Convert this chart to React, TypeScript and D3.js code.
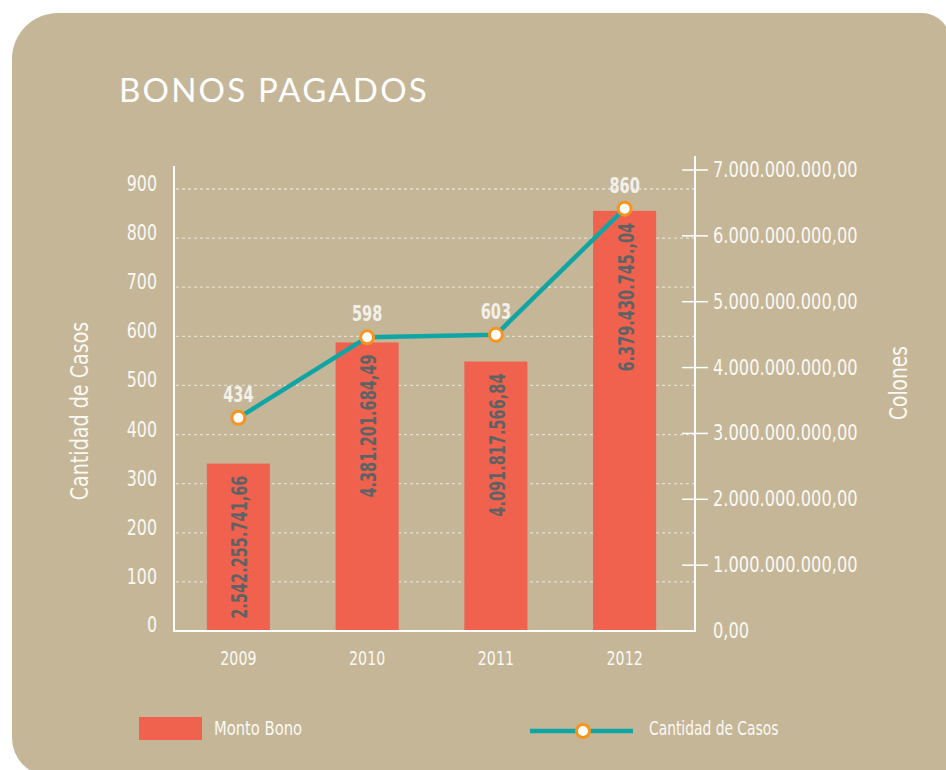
import React, { useEffect, useRef } from "react";
import * as d3 from "d3";

const years = ["2009", "2010", "2011", "2012"];
const montoBono = [2542255741.66, 4381201684.49, 4091817566.84, 6379430745.04];
const montoLabels = ["2.542.255.741,66", "4.381.201.684,49", "4.091.817.566,84", "6.379.430.745.,04"];
const casos = [434, 598, 603, 860];
const casosTicks = [0, 100, 200, 300, 400, 500, 600, 700, 800, 900];
const colonesTicks = [0, 1e9, 2e9, 3e9, 4e9, 5e9, 6e9, 7e9];

const W = 946, H = 770;
const BG = "#c5b698", BAR = "#f1624e", TEAL = "#10a5a5", ORANGE = "#f7941d";
const TXT = "#fbf9f4";
const NARROW = "'DejaVu Sans Condensed', 'DejaVu Sans', sans-serif";

const esLocale = d3.formatLocale({ decimal: ",", thousands: ".", grouping: [3], currency: ["", ""] });
const fmtColones = esLocale.format(",.2f");

// squeeze text horizontally, the original uses a condensed face
const sq = (x: number, y: number, s: number, rot = 0) =>
  `translate(${x},${y})` + (rot ? ` rotate(${rot})` : "") + ` scale(${s},1)`;

export default function App() {
  const ref = useRef<SVGSVGElement>(null);

  useEffect(() => {
    const svg = d3.select(ref.current);
    svg.selectAll("*").remove();

    // panel background with uneven rounded corners
    const x0 = 12, y0 = 13, x1 = 950, y1 = 776;
    const rtl = 46, rtr = 28, rbl = 38;
    const p = d3.path();
    p.moveTo(x0 + rtl, y0);
    p.lineTo(x1 - rtr, y0);
    p.arcTo(x1, y0, x1, y0 + rtr, rtr);
    p.lineTo(x1, y1);
    p.lineTo(x0 + rbl, y1);
    p.arcTo(x0, y1, x0, y1 - rbl, rbl);
    p.lineTo(x0, y0 + rtl);
    p.arcTo(x0, y0, x0 + rtl, y0, rtl);
    p.closePath();
    svg.append("path").attr("d", p.toString()).attr("fill", BG);

    svg.append("text").attr("x", 119).attr("y", 102)
      .attr("font-family", "Lato, 'Open Sans', sans-serif").attr("font-weight", 400)
      .attr("font-size", 33).attr("fill", "#ffffff").attr("letter-spacing", 2.2)
      .text("BONOS PAGADOS");

    const left = 174, right = 695, base = 631;
    const xScale = d3.scaleBand().domain(years).range([left, 689]).paddingInner(0.51).paddingOuter(0.255);
    const yCasos = d3.scaleLinear().domain([0, 900]).range([base, 189]);
    const yColones = d3.scaleLinear().domain([0, 7e9]).range([base, 170]);
    const cx = (d: string) => (xScale(d) as number) + xScale.bandwidth() / 2;

    // dashed grid
    svg.append("g").selectAll("line").data(casosTicks.filter(d => d > 0)).join("line")
      .attr("x1", left + 2).attr("x2", right).attr("y1", d => yCasos(d)).attr("y2", d => yCasos(d))
      .attr("stroke", "#e6dfd0").attr("stroke-width", 1.3).attr("stroke-dasharray", "3,3");

    // left axis labels
    svg.append("g").selectAll("text").data(casosTicks).join("text")
      .attr("transform", d => sq(157, yCasos(d) + (d === 0 ? 1 : 2), 0.8))
      .attr("text-anchor", "end")
      .attr("font-family", NARROW).attr("font-size", 22).attr("fill", TXT)
      .text(d => String(d));

    // right axis ticks and labels
    const rg = svg.append("g");
    rg.selectAll("line").data(colonesTicks.filter(d => d > 0)).join("line")
      .attr("x1", 682).attr("x2", 708).attr("y1", d => yColones(d)).attr("y2", d => yColones(d))
      .attr("stroke", "#ffffff").attr("stroke-width", 1.5);
    rg.selectAll("text").data(colonesTicks).join("text")
      .attr("transform", d => sq(713, yColones(d) + 7, 0.84))
      .attr("text-anchor", "start")
      .attr("font-family", NARROW).attr("font-size", 21.5).attr("fill", TXT)
      .text(d => fmtColones(d));

    // bars
    svg.append("g").selectAll("rect").data(montoBono).join("rect")
      .attr("x", (d, i) => xScale(years[i]) as number)
      .attr("y", d => yColones(d))
      .attr("width", xScale.bandwidth())
      .attr("height", d => base - yColones(d))
      .attr("fill", BAR);

    svg.append("g").selectAll("text").data(montoBono).join("text")
      .attr("transform", (d, i) => sq(cx(years[i]) + 9, yColones(d) + 12, 0.75, -90))
      .attr("text-anchor", "end")
      .attr("font-family", NARROW).attr("font-weight", "bold").attr("font-size", 21.5)
      .attr("fill", "#5f6264")
      .text((d, i) => montoLabels[i]);

    // axes frame
    svg.append("line").attr("x1", left).attr("x2", left).attr("y1", 166).attr("y2", base + 1)
      .attr("stroke", "#fff").attr("stroke-width", 2);
    svg.append("line").attr("x1", right).attr("x2", right).attr("y1", 156).attr("y2", base + 1)
      .attr("stroke", "#fff").attr("stroke-width", 2);
    svg.append("line").attr("x1", left - 1).attr("x2", right + 1).attr("y1", base).attr("y2", base)
      .attr("stroke", "#fff").attr("stroke-width", 2);

    // x labels
    svg.append("g").selectAll("text").data(years).join("text")
      .attr("transform", d => sq(cx(d), 665, 0.83))
      .attr("text-anchor", "middle")
      .attr("font-family", NARROW).attr("font-size", 19).attr("fill", TXT)
      .text(d => d);

    // line series
    const line = d3.line<number>().x((d, i) => cx(years[i])).y(d => yCasos(d));
    svg.append("path").datum(casos).attr("d", line).attr("fill", "none")
      .attr("stroke", TEAL).attr("stroke-width", 4.5).attr("stroke-linejoin", "round");
    svg.append("g").selectAll("circle").data(casos).join("circle")
      .attr("cx", (d, i) => cx(years[i])).attr("cy", d => yCasos(d)).attr("r", 6.5)
      .attr("fill", "#fff").attr("stroke", ORANGE).attr("stroke-width", 3);
    svg.append("g").selectAll("text").data(casos).join("text")
      .attr("transform", (d, i) => sq(cx(years[i]), yCasos(d) - 16, 0.77))
      .attr("text-anchor", "middle")
      .attr("font-family", NARROW).attr("font-weight", "bold").attr("font-size", 21)
      .attr("fill", "#f3f0ea").text(d => String(d));

    // axis titles
    svg.append("text").attr("transform", sq(88, 411, 0.85, -90)).attr("text-anchor", "middle")
      .attr("font-family", NARROW).attr("font-size", 25).attr("fill", TXT).text("Cantidad de Casos");
    svg.append("text").attr("transform", sq(907, 383, 0.83, -90)).attr("text-anchor", "middle")
      .attr("font-family", NARROW).attr("font-size", 25).attr("fill", TXT).text("Colones");

    // legend
    svg.append("rect").attr("x", 139).attr("y", 717).attr("width", 63).attr("height", 23).attr("fill", BAR);
    svg.append("text").attr("transform", sq(214, 735, 0.82)).attr("font-family", NARROW).attr("font-size", 20)
      .attr("fill", TXT).text("Monto Bono");
    svg.append("line").attr("x1", 530).attr("x2", 633).attr("y1", 731).attr("y2", 731)
      .attr("stroke", TEAL).attr("stroke-width", 4.5);
    svg.append("circle").attr("cx", 583).attr("cy", 731).attr("r", 6.5)
      .attr("fill", "#fff").attr("stroke", ORANGE).attr("stroke-width", 3);
    svg.append("text").attr("transform", sq(649, 735, 0.77)).attr("font-family", NARROW).attr("font-size", 20)
      .attr("fill", TXT).text("Cantidad de Casos");
  }, []);

  return (
    <svg ref={ref} width={W} height={H}
      style={{ position: "absolute", left: 0, top: 0, background: "#ffffff", display: "block" }} />
  );
}
